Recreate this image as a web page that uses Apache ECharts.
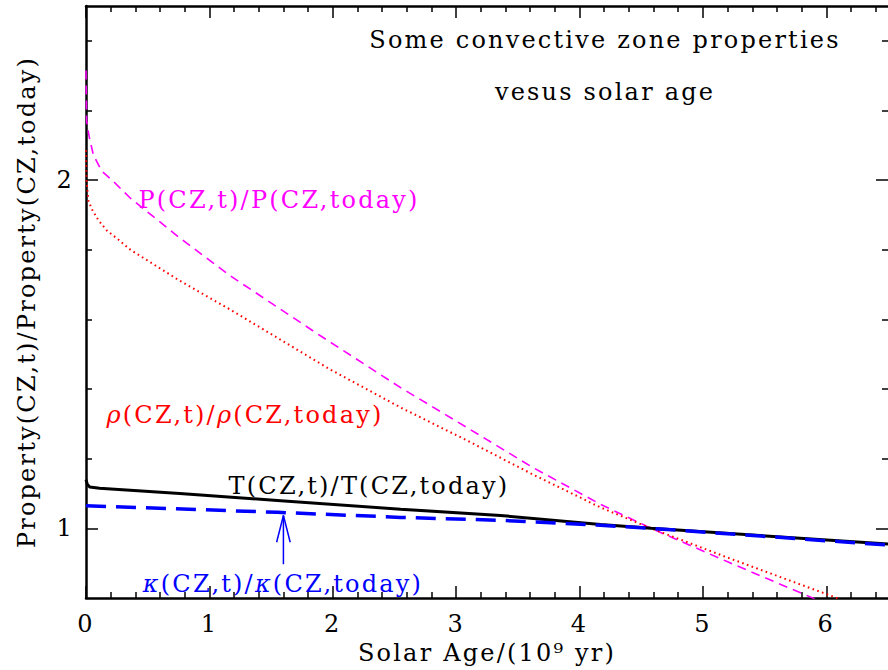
<!DOCTYPE html>
<html><head><meta charset="utf-8">
<script src="https://cdn.jsdelivr.net/npm/echarts@6/dist/echarts.min.js"></script>
<style>
html,body{margin:0;padding:0;background:#fff;}
#chart{width:888px;height:670px;}
#chart text{letter-spacing:2.2px;}
</style></head><body><div id="chart"></div>
<script>
// ---- data ----
const xMajorTicks = [0, 1, 2, 3, 4, 5, 6];
const yMajorTicks = [1, 2];
const pressureRatio = [[0,2.315],[0.005,2.17],[0.025,2.126],[0.06,2.072],[0.127,2.026],[0.22,1.997],[0.36,1.948],[0.76,1.834],[1.17,1.725],[1.9,1.553],[2.55,1.404],[3.09,1.289],[3.62,1.175],[4.17,1.069],[4.58,1.0],[5.2,0.904],[5.91,0.797]];
const densityRatio = [[0,2.086],[0.004,2.0],[0.02,1.94],[0.05,1.915],[0.1,1.885],[0.17,1.855],[0.26,1.83],[0.36,1.80],[0.76,1.711],[1.17,1.628],[1.98,1.456],[2.55,1.347],[3.09,1.252],[3.62,1.155],[4.17,1.06],[4.58,1.0],[5.2,0.916],[6.11,0.797]];
const temperatureRatio = [[0,1.14],[0.01,1.127],[0.03,1.119],[0.11,1.115],[0.76,1.1],[1.55,1.08],[2.55,1.055],[3.36,1.037],[4.17,1.011],[4.58,1.0],[6.5,0.955]];
const opacityRatio = [[0,1.065],[1.55,1.046],[2.55,1.0315],[3.36,1.023],[4.17,1.009],[4.58,1.0],[6.5,0.952]];
const arrowShaft = [[1.6,0.897],[1.6,1.037]];
const arrowHead = [[1.545,0.96],[1.6,1.037],[1.655,0.96]];
const titleLines = ['Some convective zone properties', 'vesus solar age'];
// {g|...} marks an italic Greek symbol
const curveLabels = ['P(CZ,t)/P(CZ,today)', '{g|ρ}(CZ,t)/{g|ρ}(CZ,today)', 'T(CZ,t)/T(CZ,today)', '{g|κ}(CZ,t)/{g|κ}(CZ,today)'];
const xTitle = 'Solar Age/(10⁹ yr)';
const yTitle = 'Property(CZ,t)/Property(CZ,today)';

// minor tick positions (every 0.2, skipping majors)
const xMinorTicks = [];
for (let i = 1; i < 33; i++) { if (i % 5) xMinorTicks.push(Math.round(i * 2) / 10); }
const yMinorTicks = [];
for (let i = 5; i < 13; i++) { if (i % 5) yMinorTicks.push(Math.round(i * 2) / 10); }

const FONT = 'DejaVu Serif';
const FS = 24;
const SPACING = 2.2;

function xAx(pos, ticks, len, showLine, labels) {
  return {
    type: 'value', position: pos, min: 0, max: 6.5,
    axisLine: { show: showLine, onZero: false, lineStyle: { color: '#000', width: 2.5 } },
    axisTick: { show: true, inside: true, length: len, customValues: ticks, lineStyle: { color: '#000', width: 1.5 } },
    axisLabel: labels ? { show: true, customValues: ticks, margin: 14, fontSize: FS, fontFamily: FONT, color: '#000' } : { show: false },
    splitLine: { show: false }
  };
}
function yAx(pos, ticks, len, showLine, labels) {
  return {
    type: 'value', position: pos, min: 0.8, max: 2.5,
    axisLine: { show: showLine, onZero: false, lineStyle: { color: '#000', width: 2.5 } },
    axisTick: { show: true, inside: true, length: len, customValues: ticks, lineStyle: { color: '#000', width: 1.5 } },
    axisLabel: labels ? { show: true, customValues: ticks, margin: 12, fontSize: FS, fontFamily: FONT, color: '#000' } : { show: false },
    splitLine: { show: false }
  };
}

const xMain = xAx('bottom', xMajorTicks, 12, true, true);
xMain.name = xTitle; xMain.nameLocation = 'middle'; xMain.nameGap = 43;
xMain.nameTextStyle = { fontSize: FS, fontFamily: FONT, color: '#000' };
const yMain = yAx('left', yMajorTicks, 12, true, true);
yMain.name = yTitle; yMain.nameLocation = 'middle'; yMain.nameGap = 47;
yMain.nameTextStyle = { fontSize: FS, fontFamily: FONT, color: '#000' };

// text measuring (with the same letter spacing as the CSS)
const mctx = document.createElement('canvas').getContext('2d');
function measure(s, italic) {
  mctx.font = (italic ? 'italic ' : '') + FS + 'px "' + FONT + '"';
  try { mctx.letterSpacing = SPACING + 'px'; } catch (e) {}
  let w = mctx.measureText(s).width;
  if (!('letterSpacing' in mctx)) w += SPACING * [...s].length;
  return w;
}
function label(markup, cx, cy, color) {
  const parts = [];
  const re = /\{g\|(.*?)\}/g;
  let last = 0, m;
  while ((m = re.exec(markup))) {
    if (m.index > last) parts.push([markup.slice(last, m.index), false]);
    parts.push([m[1], true]);
    last = re.lastIndex;
  }
  if (last < markup.length) parts.push([markup.slice(last), false]);
  const widths = parts.map(p => measure(p[0], p[1]));
  const total = widths.reduce((a, b) => a + b, 0);
  let x = cx - total / 2;
  return parts.map((p, i) => {
    const el = { type: 'text', x: x, y: cy, silent: true,
      style: { text: p[0], fill: color, fontSize: FS, fontFamily: FONT, fontStyle: p[1] ? 'italic' : 'normal',
        align: 'left', verticalAlign: 'middle', textAlign: 'left', textVerticalAlign: 'middle' } };
    x += widths[i];
    return el;
  });
}

const chart = echarts.init(document.getElementById('chart'), null, { renderer: 'svg' });
chart.setOption({
  animation: false,
  backgroundColor: '#fff',
  grid: { left: 86, right: 0, top: 6, bottom: 69, containLabel: false },
  xAxis: [
    xMain,
    xAx('bottom', xMinorTicks, 6, false, false),
    xAx('top', xMajorTicks, 12, true, false),
    xAx('top', xMinorTicks, 6, false, false)
  ],
  yAxis: [
    yMain,
    yAx('left', yMinorTicks, 6, false, false),
    yAx('right', yMajorTicks, 12, false, false),
    yAx('right', yMinorTicks, 6, false, false)
  ],
  series: [
    { type: 'line', data: pressureRatio, symbol: 'none', lineStyle: { color: '#ff00ff', width: 1.6, type: [9, 6] }, z: 3 },
    { type: 'line', data: densityRatio, symbol: 'none', lineStyle: { color: '#ff0000', width: 2, type: [1.6, 3.4] }, z: 3 },
    { type: 'line', data: temperatureRatio, symbol: 'none', lineStyle: { color: '#000', width: 3 }, z: 4 },
    { type: 'line', data: opacityRatio, symbol: 'none', lineStyle: { color: '#0000ff', width: 3.5, type: [20, 10] }, z: 5 },
    { type: 'line', data: arrowShaft, symbol: 'none', lineStyle: { color: '#0000ff', width: 1.5 }, z: 5 },
    { type: 'line', data: arrowHead, symbol: 'none', lineStyle: { color: '#0000ff', width: 1.5 }, z: 5 }
  ],
  graphic: [].concat(
    label(titleLines[0], 605, 40, '#000'),
    label(titleLines[1], 605, 92, '#000'),
    label(curveLabels[0], 279, 200, '#ff00ff'),
    label(curveLabels[1], 245, 415, '#ff0000'),
    label(curveLabels[2], 369, 486, '#000'),
    label(curveLabels[3], 283, 584, '#0000ff')
  )
});
</script></body></html>
